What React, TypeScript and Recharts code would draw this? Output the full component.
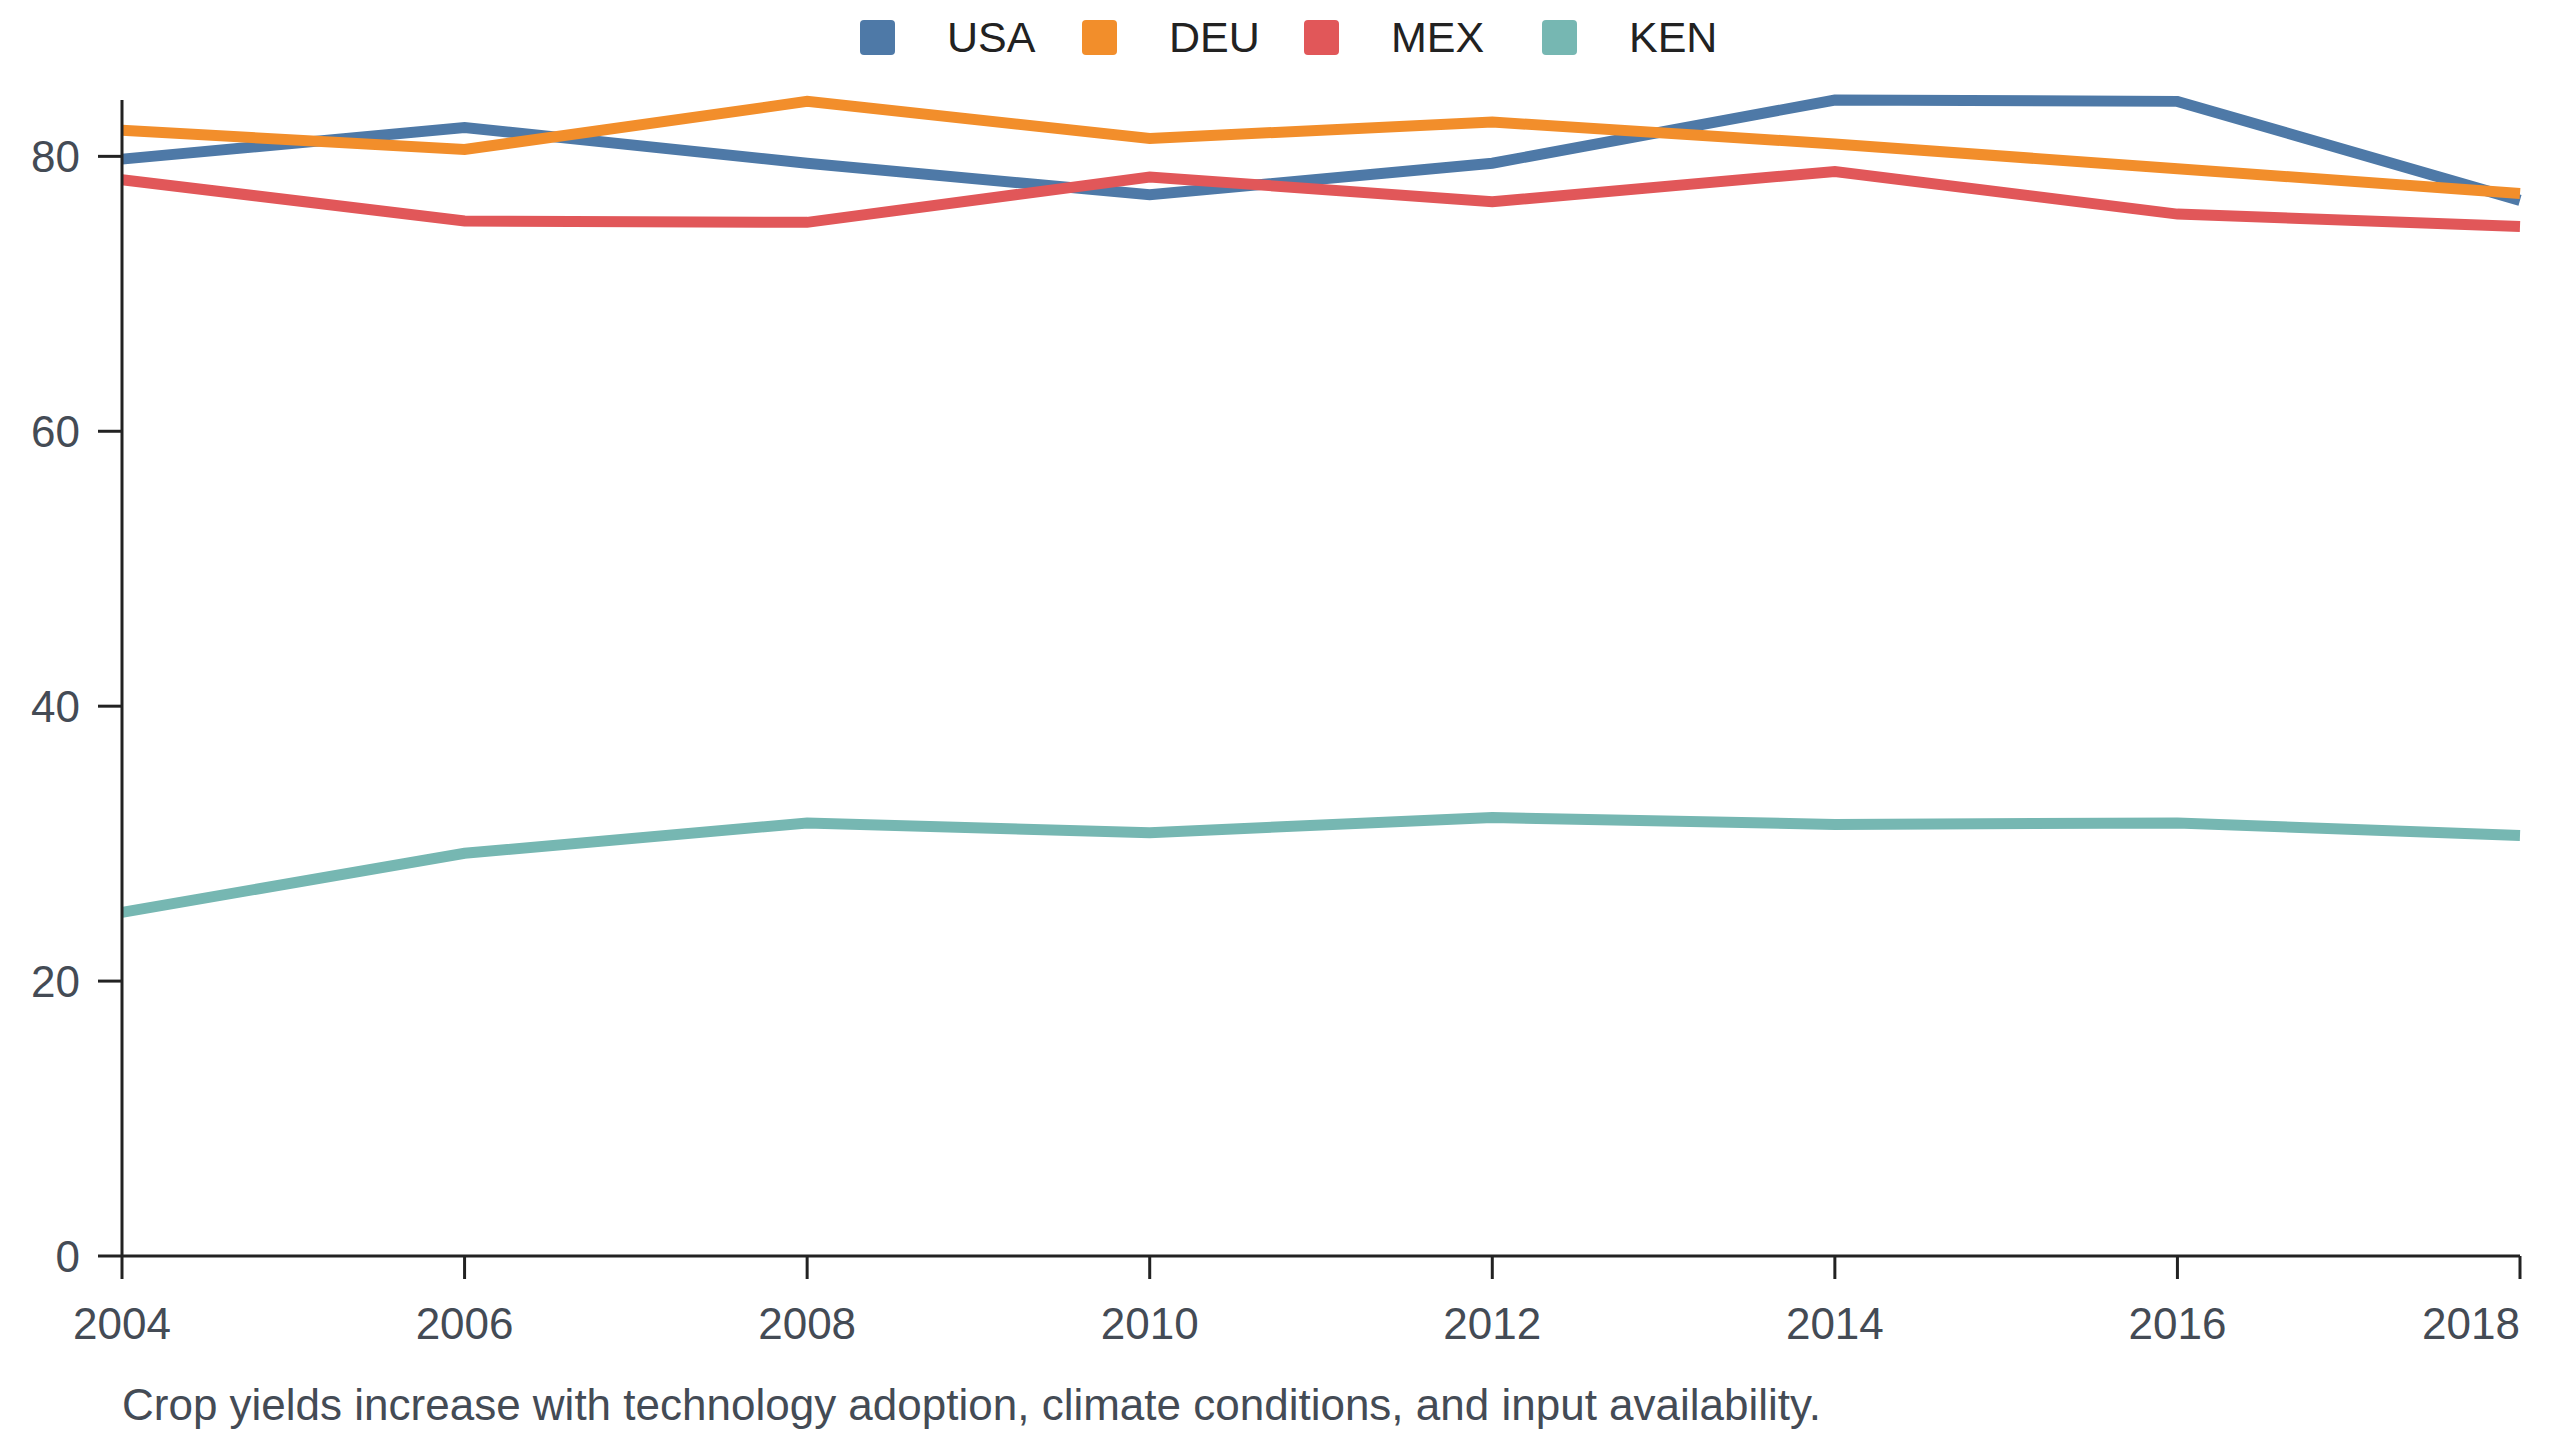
import { LineChart, Line, XAxis, YAxis } from "recharts";

const years = [2004, 2006, 2008, 2010, 2012, 2014, 2016, 2018];
const usa = [79.8, 82.1, 79.5, 77.2, 79.5, 84.1, 84.0, 76.8];
const deu = [81.9, 80.5, 84.0, 81.3, 82.5, 80.9, 79.1, 77.3];
const mex = [78.3, 75.3, 75.2, 78.5, 76.7, 78.9, 75.8, 74.9];
const ken = [25.0, 29.3, 31.5, 30.8, 31.9, 31.4, 31.5, 30.6];
const yTicks = [0, 20, 40, 60, 80];
const caption =
  "Crop yields increase with technology adoption, climate conditions, and input availability.";

const series = [
  { key: "USA", color: "#4e79a7", values: usa, slot: 222 },
  { key: "DEU", color: "#f28e2b", values: deu, slot: 222 },
  { key: "MEX", color: "#e15759", values: mex, slot: 238 },
  { key: "KEN", color: "#76b7b2", values: ken, slot: 190 },
];

const data = years.map((year, i) => {
  const row: { [k: string]: number } = { year };
  series.forEach((s) => {
    row[s.key] = s.values[i];
  });
  return row;
});

const font = '"Liberation Sans", Arial, Helvetica, sans-serif';
const axisColor = "#222";
const labelColor = "#444b55";
const tickStyle = { fill: labelColor, fontSize: 44, fontFamily: font };

// last year label is kept inside the frame (right-aligned to its tick)
const XTick = (props: any) => {
  const { x, y, payload } = props;
  const last = payload.value === years[years.length - 1];
  return (
    <text
      x={x}
      y={y}
      dy="0.71em"
      textAnchor={last ? "end" : "middle"}
      fill={labelColor}
      fontSize={44}
      fontFamily={font}
    >
      {payload.value}
    </text>
  );
};

export default function App() {
  return (
    <div style={{ position: "relative", width: 2544, height: 1424, fontFamily: font }}>
      {/* legend */}
      <div
        style={{
          position: "absolute",
          top: 0,
          left: 852,
          height: 58,
          display: "flex",
          alignItems: "center",
          zIndex: 2,
        }}
      >
        {series.map((s) => (
          <div key={s.key} style={{ display: "flex", alignItems: "center", width: s.slot }}>
            <div
              style={{
                width: 35,
                height: 35,
                borderRadius: 4,
                background: s.color,
                marginRight: 52,
                flexShrink: 0,
              }}
            />
            <span style={{ fontSize: 43, color: "#222", lineHeight: 1 }}>{s.key}</span>
          </div>
        ))}
      </div>

      <LineChart
        width={2544}
        height={1424}
        data={data}
        margin={{ top: 92, right: 32, bottom: 94, left: 0 }}
      >
        <XAxis
          dataKey="year"
          type="number"
          domain={[2004, 2018]}
          ticks={years}
          height={82}
          tickSize={23}
          tickMargin={29}
          tick={<XTick />}
          axisLine={{ stroke: axisColor, strokeWidth: 3 }}
          tickLine={{ stroke: axisColor, strokeWidth: 3 }}
        />
        <YAxis
          type="number"
          domain={[0, "dataMax"]}
          ticks={yTicks}
          width={114}
          tickSize={24}
          tickMargin={18}
          tick={tickStyle}
          axisLine={{ stroke: axisColor, strokeWidth: 3 }}
          tickLine={{ stroke: axisColor, strokeWidth: 3 }}
        />
        {series.map((s) => (
          <Line
            key={s.key}
            type="linear"
            dataKey={s.key}
            stroke={s.color}
            strokeWidth={11}
            dot={false}
            activeDot={false}
            isAnimationActive={false}
          />
        ))}
      </LineChart>

      <div
        style={{
          position: "absolute",
          top: 1375,
          left: 114,
          fontSize: 44,
          lineHeight: 1,
          color: labelColor,
          whiteSpace: "nowrap",
        }}
      >
        {caption}
      </div>
    </div>
  );
}
